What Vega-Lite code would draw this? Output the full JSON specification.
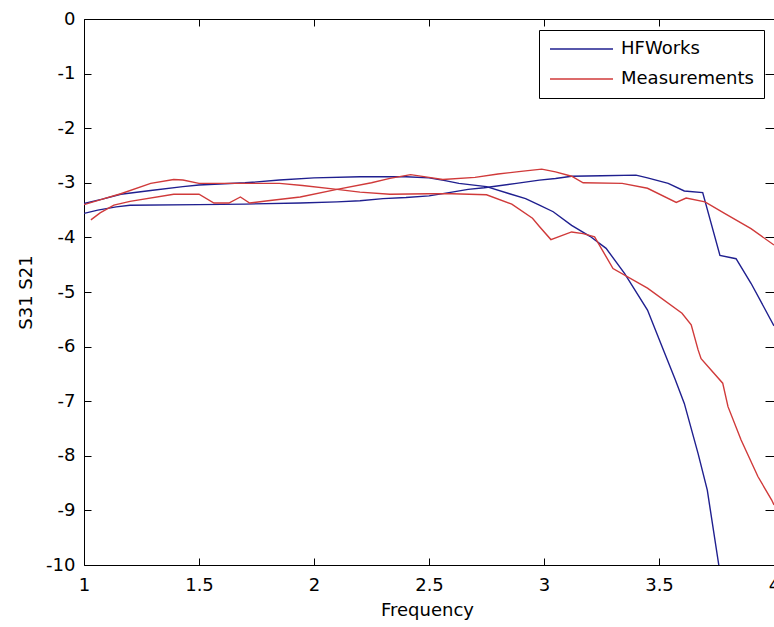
{
  "$schema": "https://vega.github.io/schema/vega-lite/v6.json",
  "autosize": "none",
  "width": 690,
  "height": 546,
  "padding": {"left": 84, "top": 19, "right": 0, "bottom": 62},
  "background": "white",
  "config": {
    "view": {"stroke": null},
    "font": "DejaVu Sans",
    "axis": {
      "labelFont": "DejaVu Sans", "labelFontSize": 18, "labelColor": "black",
      "titleFont": "DejaVu Sans", "titleFontSize": 18, "titleColor": "black", "titleFontWeight": "normal",
      "domainColor": "black", "tickColor": "black", "domainWidth": 1, "tickWidth": 1,
      "grid": false, "labelFlush": false, "labelOverlap": false
    },
    "legend": {"labelFont": "DejaVu Sans", "labelFontSize": 18, "labelColor": "black"}
  },
  "data": {
    "values": [
      {"f":1.0,"v":-3.38,"src":"HFWorks","curve":"S31"},
      {"f":1.08,"v":-3.30,"src":"HFWorks","curve":"S31"},
      {"f":1.16,"v":-3.21,"src":"HFWorks","curve":"S31"},
      {"f":1.29,"v":-3.14,"src":"HFWorks","curve":"S31"},
      {"f":1.43,"v":-3.07,"src":"HFWorks","curve":"S31"},
      {"f":1.5,"v":-3.04,"src":"HFWorks","curve":"S31"},
      {"f":1.7,"v":-3.0,"src":"HFWorks","curve":"S31"},
      {"f":1.85,"v":-2.95,"src":"HFWorks","curve":"S31"},
      {"f":2.0,"v":-2.91,"src":"HFWorks","curve":"S31"},
      {"f":2.2,"v":-2.89,"src":"HFWorks","curve":"S31"},
      {"f":2.4,"v":-2.89,"src":"HFWorks","curve":"S31"},
      {"f":2.5,"v":-2.91,"src":"HFWorks","curve":"S31"},
      {"f":2.57,"v":-2.96,"src":"HFWorks","curve":"S31"},
      {"f":2.63,"v":-3.01,"src":"HFWorks","curve":"S31"},
      {"f":2.75,"v":-3.07,"src":"HFWorks","curve":"S31"},
      {"f":2.85,"v":-3.2,"src":"HFWorks","curve":"S31"},
      {"f":2.92,"v":-3.29,"src":"HFWorks","curve":"S31"},
      {"f":2.98,"v":-3.41,"src":"HFWorks","curve":"S31"},
      {"f":3.04,"v":-3.53,"src":"HFWorks","curve":"S31"},
      {"f":3.12,"v":-3.78,"src":"HFWorks","curve":"S31"},
      {"f":3.2,"v":-3.98,"src":"HFWorks","curve":"S31"},
      {"f":3.27,"v":-4.2,"src":"HFWorks","curve":"S31"},
      {"f":3.35,"v":-4.66,"src":"HFWorks","curve":"S31"},
      {"f":3.45,"v":-5.33,"src":"HFWorks","curve":"S31"},
      {"f":3.52,"v":-6.07,"src":"HFWorks","curve":"S31"},
      {"f":3.57,"v":-6.6,"src":"HFWorks","curve":"S31"},
      {"f":3.61,"v":-7.04,"src":"HFWorks","curve":"S31"},
      {"f":3.67,"v":-7.96,"src":"HFWorks","curve":"S31"},
      {"f":3.71,"v":-8.63,"src":"HFWorks","curve":"S31"},
      {"f":3.76,"v":-10.0,"src":"HFWorks","curve":"S31"},

      {"f":1.0,"v":-3.56,"src":"HFWorks","curve":"S21"},
      {"f":1.06,"v":-3.5,"src":"HFWorks","curve":"S21"},
      {"f":1.14,"v":-3.44,"src":"HFWorks","curve":"S21"},
      {"f":1.2,"v":-3.41,"src":"HFWorks","curve":"S21"},
      {"f":1.5,"v":-3.40,"src":"HFWorks","curve":"S21"},
      {"f":1.7,"v":-3.39,"src":"HFWorks","curve":"S21"},
      {"f":1.94,"v":-3.37,"src":"HFWorks","curve":"S21"},
      {"f":2.1,"v":-3.35,"src":"HFWorks","curve":"S21"},
      {"f":2.2,"v":-3.33,"src":"HFWorks","curve":"S21"},
      {"f":2.3,"v":-3.29,"src":"HFWorks","curve":"S21"},
      {"f":2.4,"v":-3.27,"src":"HFWorks","curve":"S21"},
      {"f":2.5,"v":-3.24,"src":"HFWorks","curve":"S21"},
      {"f":2.6,"v":-3.17,"src":"HFWorks","curve":"S21"},
      {"f":2.67,"v":-3.12,"src":"HFWorks","curve":"S21"},
      {"f":2.74,"v":-3.09,"src":"HFWorks","curve":"S21"},
      {"f":2.88,"v":-3.01,"src":"HFWorks","curve":"S21"},
      {"f":2.98,"v":-2.95,"src":"HFWorks","curve":"S21"},
      {"f":3.05,"v":-2.92,"src":"HFWorks","curve":"S21"},
      {"f":3.12,"v":-2.88,"src":"HFWorks","curve":"S21"},
      {"f":3.25,"v":-2.87,"src":"HFWorks","curve":"S21"},
      {"f":3.4,"v":-2.86,"src":"HFWorks","curve":"S21"},
      {"f":3.45,"v":-2.91,"src":"HFWorks","curve":"S21"},
      {"f":3.54,"v":-3.01,"src":"HFWorks","curve":"S21"},
      {"f":3.61,"v":-3.15,"src":"HFWorks","curve":"S21"},
      {"f":3.69,"v":-3.18,"src":"HFWorks","curve":"S21"},
      {"f":3.765,"v":-4.33,"src":"HFWorks","curve":"S21"},
      {"f":3.835,"v":-4.39,"src":"HFWorks","curve":"S21"},
      {"f":3.9,"v":-4.84,"src":"HFWorks","curve":"S21"},
      {"f":4.0,"v":-5.62,"src":"HFWorks","curve":"S21"},

      {"f":1.0,"v":-3.40,"src":"Measurements","curve":"S31"},
      {"f":1.08,"v":-3.30,"src":"Measurements","curve":"S31"},
      {"f":1.16,"v":-3.20,"src":"Measurements","curve":"S31"},
      {"f":1.29,"v":-3.01,"src":"Measurements","curve":"S31"},
      {"f":1.39,"v":-2.94,"src":"Measurements","curve":"S31"},
      {"f":1.43,"v":-2.95,"src":"Measurements","curve":"S31"},
      {"f":1.5,"v":-3.01,"src":"Measurements","curve":"S31"},
      {"f":1.7,"v":-3.01,"src":"Measurements","curve":"S31"},
      {"f":1.85,"v":-3.01,"src":"Measurements","curve":"S31"},
      {"f":1.95,"v":-3.05,"src":"Measurements","curve":"S31"},
      {"f":2.1,"v":-3.12,"src":"Measurements","curve":"S31"},
      {"f":2.2,"v":-3.17,"src":"Measurements","curve":"S31"},
      {"f":2.33,"v":-3.21,"src":"Measurements","curve":"S31"},
      {"f":2.5,"v":-3.2,"src":"Measurements","curve":"S31"},
      {"f":2.6,"v":-3.2,"src":"Measurements","curve":"S31"},
      {"f":2.75,"v":-3.22,"src":"Measurements","curve":"S31"},
      {"f":2.86,"v":-3.39,"src":"Measurements","curve":"S31"},
      {"f":2.95,"v":-3.65,"src":"Measurements","curve":"S31"},
      {"f":2.98,"v":-3.8,"src":"Measurements","curve":"S31"},
      {"f":3.03,"v":-4.04,"src":"Measurements","curve":"S31"},
      {"f":3.12,"v":-3.9,"src":"Measurements","curve":"S31"},
      {"f":3.17,"v":-3.93,"src":"Measurements","curve":"S31"},
      {"f":3.22,"v":-3.99,"src":"Measurements","curve":"S31"},
      {"f":3.3,"v":-4.57,"src":"Measurements","curve":"S31"},
      {"f":3.45,"v":-4.93,"src":"Measurements","curve":"S31"},
      {"f":3.6,"v":-5.39,"src":"Measurements","curve":"S31"},
      {"f":3.64,"v":-5.6,"src":"Measurements","curve":"S31"},
      {"f":3.67,"v":-6.06,"src":"Measurements","curve":"S31"},
      {"f":3.683,"v":-6.22,"src":"Measurements","curve":"S31"},
      {"f":3.777,"v":-6.67,"src":"Measurements","curve":"S31"},
      {"f":3.8,"v":-7.10,"src":"Measurements","curve":"S31"},
      {"f":3.857,"v":-7.71,"src":"Measurements","curve":"S31"},
      {"f":3.93,"v":-8.38,"src":"Measurements","curve":"S31"},
      {"f":3.99,"v":-8.81,"src":"Measurements","curve":"S31"},
      {"f":4.0,"v":-8.9,"src":"Measurements","curve":"S31"},

      {"f":1.03,"v":-3.68,"src":"Measurements","curve":"S21"},
      {"f":1.07,"v":-3.55,"src":"Measurements","curve":"S21"},
      {"f":1.13,"v":-3.41,"src":"Measurements","curve":"S21"},
      {"f":1.2,"v":-3.34,"src":"Measurements","curve":"S21"},
      {"f":1.39,"v":-3.21,"src":"Measurements","curve":"S21"},
      {"f":1.5,"v":-3.21,"src":"Measurements","curve":"S21"},
      {"f":1.565,"v":-3.37,"src":"Measurements","curve":"S21"},
      {"f":1.63,"v":-3.37,"src":"Measurements","curve":"S21"},
      {"f":1.68,"v":-3.26,"src":"Measurements","curve":"S21"},
      {"f":1.72,"v":-3.37,"src":"Measurements","curve":"S21"},
      {"f":1.8,"v":-3.33,"src":"Measurements","curve":"S21"},
      {"f":1.94,"v":-3.26,"src":"Measurements","curve":"S21"},
      {"f":2.1,"v":-3.12,"src":"Measurements","curve":"S21"},
      {"f":2.25,"v":-3.0,"src":"Measurements","curve":"S21"},
      {"f":2.33,"v":-2.92,"src":"Measurements","curve":"S21"},
      {"f":2.42,"v":-2.85,"src":"Measurements","curve":"S21"},
      {"f":2.5,"v":-2.9,"src":"Measurements","curve":"S21"},
      {"f":2.56,"v":-2.94,"src":"Measurements","curve":"S21"},
      {"f":2.7,"v":-2.9,"src":"Measurements","curve":"S21"},
      {"f":2.8,"v":-2.84,"src":"Measurements","curve":"S21"},
      {"f":2.9,"v":-2.79,"src":"Measurements","curve":"S21"},
      {"f":2.99,"v":-2.75,"src":"Measurements","curve":"S21"},
      {"f":3.05,"v":-2.8,"src":"Measurements","curve":"S21"},
      {"f":3.12,"v":-2.88,"src":"Measurements","curve":"S21"},
      {"f":3.17,"v":-3.0,"src":"Measurements","curve":"S21"},
      {"f":3.34,"v":-3.01,"src":"Measurements","curve":"S21"},
      {"f":3.45,"v":-3.1,"src":"Measurements","curve":"S21"},
      {"f":3.575,"v":-3.36,"src":"Measurements","curve":"S21"},
      {"f":3.618,"v":-3.28,"src":"Measurements","curve":"S21"},
      {"f":3.7,"v":-3.35,"src":"Measurements","curve":"S21"},
      {"f":3.785,"v":-3.56,"src":"Measurements","curve":"S21"},
      {"f":3.9,"v":-3.84,"src":"Measurements","curve":"S21"},
      {"f":4.0,"v":-4.14,"src":"Measurements","curve":"S21"}
    ]
  },
  "layer": [
    {
      "mark": {"type": "line", "opacity": 0, "clip": true},
      "encoding": {
        "x": {"field": "f", "type": "quantitative",
          "scale": {"domain": [1, 4], "nice": false, "zero": false},
          "axis": {"orient": "bottom", "values": [1, 1.5, 2, 2.5, 3, 3.5, 4], "labelExpr": "'' + datum.value",
            "tickSize": -7, "labelPadding": 18, "title": "Frequency",
            "titleX": 343, "titleY": 50, "titleBaseline": "alphabetic", "titleAnchor": "middle", "titleAlign": "center"}},
        "y": {"field": "v", "type": "quantitative",
          "scale": {"domain": [-10, 0], "nice": false, "zero": false},
          "axis": {"orient": "left", "values": [-10, -9, -8, -7, -6, -5, -4, -3, -2, -1, 0], "labelExpr": "'' + datum.value",
            "tickSize": -7, "labelPadding": 16, "title": "S31 S21",
            "titleX": -58, "titleY": 273, "titleBaseline": "middle", "titleAngle": -90, "titleAlign": "center"}},
        "detail": {"field": "curve"}
      }
    },
    {
      "mark": {"type": "line", "strokeWidth": 1.4, "clip": true},
      "encoding": {
        "x": {"field": "f", "type": "quantitative",
          "scale": {"domain": [1, 4], "nice": false, "zero": false},
          "axis": {"orient": "top", "values": [1, 1.5, 2, 2.5, 3, 3.5, 4], "labels": false, "tickSize": -7, "title": null}},
        "y": {"field": "v", "type": "quantitative",
          "scale": {"domain": [-10, 0], "nice": false, "zero": false},
          "axis": {"orient": "right", "values": [-10, -9, -8, -7, -6, -5, -4, -3, -2, -1, 0], "labels": false, "tickSize": -9, "domain": false, "title": null}},
        "color": {"field": "src", "type": "nominal",
          "scale": {"domain": ["HFWorks", "Measurements"], "range": ["#1f1f8f", "#d03a3a"]},
          "legend": {"orient": "none", "legendX": 455, "legendY": 11, "title": null,
            "symbolType": "stroke", "symbolSize": 3969, "symbolStrokeWidth": 1.4, "clipHeight": 18,
            "labelOffset": 7, "rowPadding": 12, "padding": 10,
            "strokeColor": "black", "fillColor": "white", "labelFontSize": 18}},
        "detail": {"field": "curve"}
      }
    }
  ],
  "resolve": {"axis": {"x": "independent", "y": "independent"}}
}
